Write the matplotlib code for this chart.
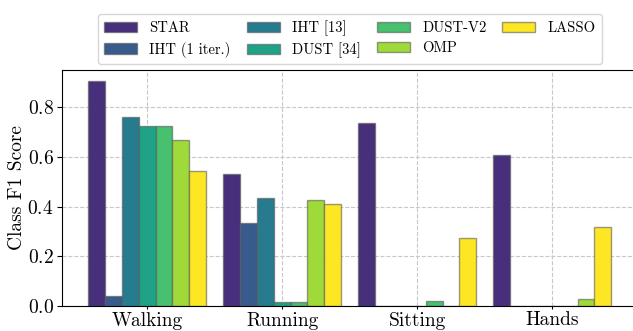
import matplotlib
matplotlib.use('Agg')

import matplotlib.pyplot as plt
import numpy as np

plt.rcParams['font.family'] = 'serif'
plt.rcParams['font.serif'] = ['cmr10']
plt.rcParams['mathtext.fontset'] = 'cm'
plt.rcParams['axes.formatter.use_mathtext'] = True

activities = ['Walking', 'Running', 'Sitting', 'Hands']
methods = ['STAR', 'IHT (1 iter.)', 'IHT [13]', 'DUST [34]', 'DUST-V2', 'OMP', 'LASSO']

star = [0.905, 0.533, 0.738, 0.608]
iht_1iter = [0.041, 0.333, 0.0, 0.0]
iht = [0.762, 0.433, 0.0, 0.0]
dust = [0.726, 0.015, 0.0, 0.0]
dust_v2 = [0.726, 0.015, 0.021, 0.0]
omp = [0.667, 0.427, 0.0, 0.028]
lasso = [0.542, 0.409, 0.272, 0.317]

scores = [star, iht_1iter, iht, dust, dust_v2, omp, lasso]
colors = ['#482f7c', '#365b8c', '#277b8e', '#20a287', '#47c06f', '#9fd93a', '#fde725']

fig = plt.figure(figsize=(6.33, 3.31), dpi=100)
ax = fig.add_axes([62 / 633, 25 / 331, 574 / 633, 236 / 331])

x = np.arange(len(activities))
width = 0.125
for i, (name, vals) in enumerate(zip(methods, scores)):
    ax.bar(x + (i - 3) * width, vals, width, color=colors[i], label=name,
           edgecolor=(0.35, 0.35, 0.35, 0.6), linewidth=1)

ax.set_axisbelow(True)
ax.grid(True, linestyle='--', color='#c8c8c8', linewidth=0.8)
ax.set_xticks(x)
ax.set_xticklabels(activities, fontsize=14)
ax.tick_params(axis='x', length=2.5, pad=1.5)
ax.tick_params(axis='y', labelsize=14, length=3.5, pad=2.5)
ax.set_yticks([0.0, 0.2, 0.4, 0.6, 0.8])
ax.set_ylim(0, 0.95)
ax.set_xlim(-0.63, 3.62)
ax.set_ylabel('Class F1 Score', fontsize=14, labelpad=1)

fig.legend(loc='upper center', bbox_to_anchor=(350 / 633, 1 - 7 / 331), ncol=4,
           fontsize=10.5, handlelength=2.25, columnspacing=1.1, handletextpad=0.85,
           labelspacing=0.45)

plt.savefig('out.png', dpi=100)
